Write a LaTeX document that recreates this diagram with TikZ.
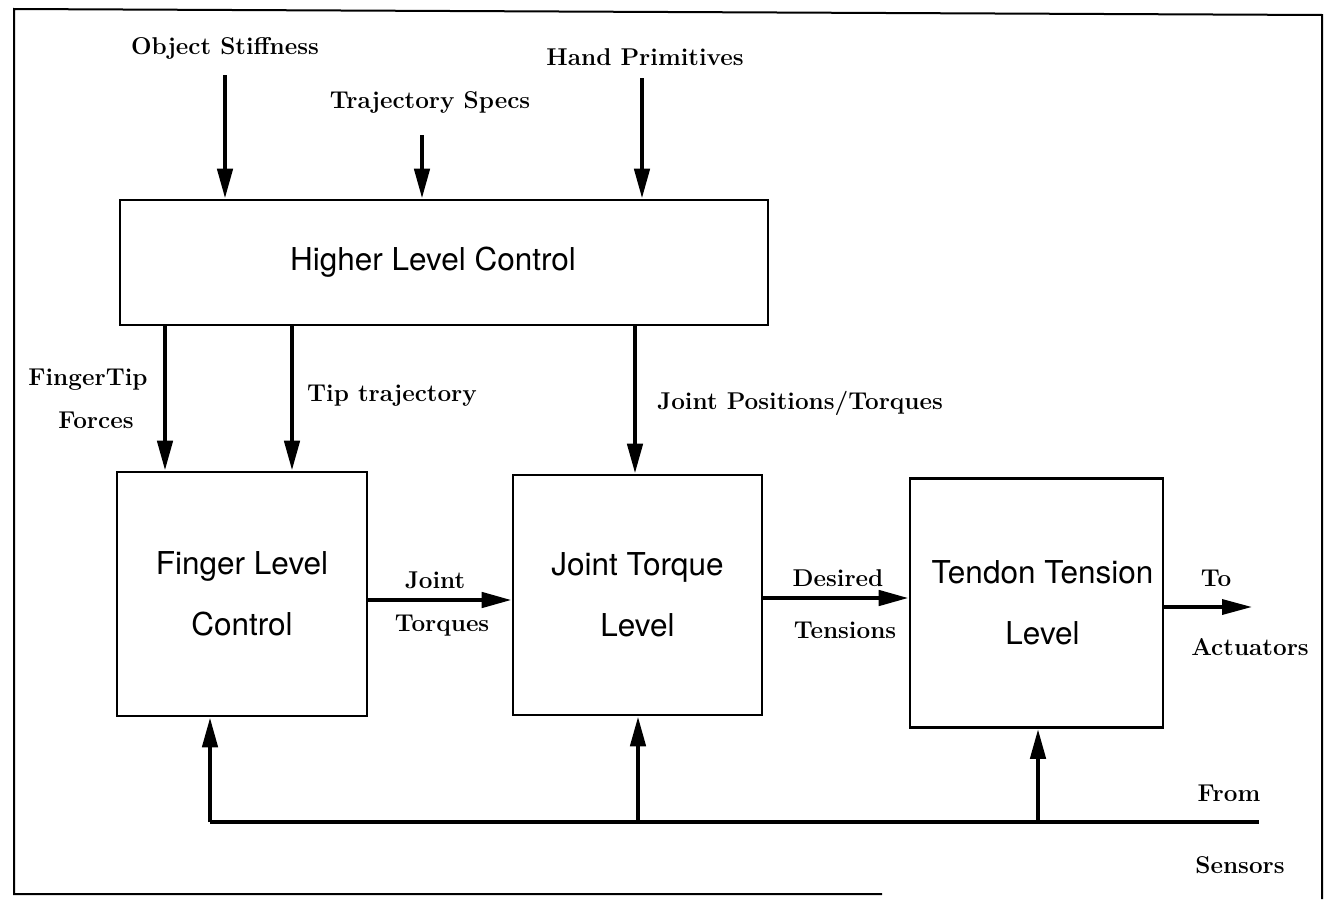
\documentclass[tikz,border=0pt]{standalone}
\usepackage{fontspec}
\setsansfont{TeX Gyre Heros}
\usetikzlibrary{arrows.meta}
\tikzset{
  blk/.style={draw, line width=2.6pt, inner sep=0pt, align=center,
    font=\sffamily\fontsize{31.5}{61}\selectfont},
  lbl/.style={font=\bfseries\fontsize{24.3}{30}\selectfont, inner sep=0pt},
  arr/.style={line width=4.5pt, -{Triangle[length=30pt,width=15pt]}},
  wire/.style={line width=4.5pt},
  frame/.style={line width=2pt}
}
\begin{document}
\begin{tikzpicture}[x=1pt,y=-1pt]
\useasboundingbox (0,0) rectangle (1329,902);
% outer frame
\draw[frame] (882,894) -- (14,894) -- (14,9) -- (1322,15) -- (1322,899);
% blocks
\node[blk, minimum width=648pt, minimum height=125pt] (hlc) at (444,262.5) {Higher Level Control\hspace*{22pt}};
\node[blk, minimum width=250pt, minimum height=244pt] (flc) at (242,594) {Finger Level\\Control};
\node[blk, minimum width=249pt, minimum height=240pt] (jtl) at (637.5,595) {Joint Torque\\Level};
\node[blk, minimum width=253pt, minimum height=249pt] (ttl) at (1036.5,603) {\hspace*{12pt}Tendon Tension\\\hspace*{12pt}Level};
% top inputs
\node[lbl] (os) at (225,48) {Object Stiffness};
\node[lbl] (ts) at (430,102) {Trajectory Specs};
\node[lbl] (hp) at (645,57) {Hand Primitives};
\coordinate (osA) at (225,75);
\coordinate (tsA) at (422,135);
\coordinate (hpA) at (642,78);
\draw[arr] (osA) -- (osA |- hlc.north);
\draw[arr] (tsA) -- (tsA |- hlc.north);
\draw[arr] (hpA) -- (hpA |- hlc.north);
% from higher level control down
\coordinate (ftX) at (165,0);
\coordinate (ttX) at (292,0);
\coordinate (jpX) at (635,0);
\draw[arr] (ftX |- hlc.south) -- (ftX |- flc.north);
\draw[arr] (ttX |- hlc.south) -- (ttX |- flc.north);
\draw[arr] (jpX |- hlc.south) -- (jpX |- jtl.north);
\node[lbl] (ft1) at (88,380) {FingerTip};
\node[lbl] (ft2) at (96,420) {Forces};
\node[lbl] (tt) at (392,396) {Tip trajectory};
\node[lbl] (jp) at (800,403) {Joint Positions/Torques};
% horizontal flow
\coordinate (y1) at (0,600);
\coordinate (y2) at (0,598);
\coordinate (y3) at (0,607);
\draw[arr] (flc.east |- y1) -- (jtl.west |- y1);
\draw[arr] (jtl.east |- y2) -- (ttl.west |- y2);
\coordinate (act) at (1252,607);
\draw[arr, line width=3.5pt] (ttl.east |- y3) -- (act);
\node[lbl] (jt1) at (435,580) {Joint};
\node[lbl] (jt2) at (442,626) {Torques};
\node[lbl] (dt1) at (838,578) {Desired};
\node[lbl] (dt2) at (845,630) {Tensions};
\node[lbl] (to1) at (1216,578) {To};
\node[lbl] (to2) at (1250,647) {Actuators};
% sensor feedback
\coordinate (s1) at (210,822);
\coordinate (s2) at (1259,822);
\coordinate (s3) at (638,822);
\coordinate (s4) at (1038,822);
\draw[wire] (s1) -- (s2);
\draw[arr] (s1) -- (s1 |- flc.south);
\draw[arr] (s3) -- (s3 |- jtl.south);
\draw[arr] (s4) -- (s4 |- ttl.south);
\node[lbl] (fr) at (1229,793) {From};
\node[lbl] (se) at (1240,865) {Sensors};
\end{tikzpicture}
\end{document}
